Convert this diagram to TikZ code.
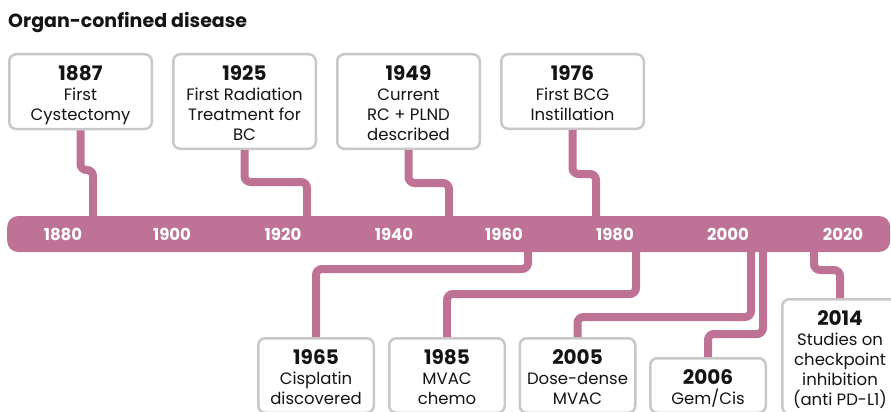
\documentclass[tikz,border=0pt]{standalone}
\usepackage{fontspec}
\setmainfont{Poppins}
\definecolor{mauve}{RGB}{190,115,150}
\definecolor{boxgray}{RGB}{200,200,200}
\definecolor{ink}{RGB}{20,20,20}
% year line of an event box: bold, with a strut that fixes the top padding
\newcommand\evyear[1]{{\fontsize{20}{20}\selectfont\bfseries\rule{0pt}{22.5pt}#1}}
% depth strut for the last line of an event box
\newcommand\evdp{\rule[-4pt]{0pt}{4pt}}
\begin{document}
\begin{tikzpicture}[x=1pt,y=-1pt,
  evbox/.style={draw=boxgray, line width=2.5pt, rounded corners=7pt, fill=white,
    align=center, inner xsep=2pt, inner ysep=4pt, text=ink,
    font=\fontsize{16.5}{20}\selectfont, anchor=north},
  topbox/.style={evbox, minimum width=142.5pt, anchor=north},
  lowbox/.style={evbox, minimum width=115.5pt, anchor=north},
  conn/.style={draw=mauve, line width=8pt, rounded corners=6pt},
  barlabel/.style={text=white, font=\fontsize{16.5}{16.5}\selectfont\bfseries, inner sep=0pt},
  heading/.style={text=ink, font=\fontsize{19}{19}\selectfont\bfseries, inner sep=0pt, anchor=base west}
]
\useasboundingbox (0,0) rectangle (891,412);

\node[heading] (title) at (8,28) {Organ-confined disease};

% points where the connectors meet the timeline
\coordinate (t1887) at (93,234);
\coordinate (t1925) at (307,234);
\coordinate (t1949) at (449,234);
\coordinate (t1976) at (596,234);
\coordinate (t1965) at (528,234);
\coordinate (t1985) at (636,234);
\coordinate (t2005) at (751,234);
\coordinate (t2006) at (763,234);
\coordinate (t2014) at (814,234);

% events above the timeline
\node[topbox] (b1887) at (80.5,53) {\evyear{1887}\\First\\Cystectomy\evdp};
\node[topbox] (b1925) at (244.5,53) {\evyear{1925}\\First Radiation\\Treatment for\\BC\evdp};
\node[topbox] (b1949) at (408.5,53) {\evyear{1949}\\Current\\RC + PLND\\described\evdp};
\node[topbox] (b1976) at (572.5,53) {\evyear{1976}\\First BCG\\Instillation\evdp};

% events below the timeline
\node[lowbox] (b1965) at (316,337) {\evyear{1965}\\Cisplatin\\discovered\evdp};
\node[lowbox] (b1985) at (447,337) {\evyear{1985}\\MVAC\\chemo\evdp};
\node[lowbox] (b2005) at (577.5,337) {\evyear{2005}\\Dose-dense\\MVAC\evdp};
\node[lowbox] (b2006) at (708,357) {\evyear{2006}\\Gem/Cis\evdp};
\node[lowbox] (b2014) at (840,298) {\evyear{2014}\\Studies on\\checkpoint\\inhibition\\(anti PD-L1)\evdp};

% connectors
\draw[conn] (b1887.south) -- (b1887.south |- 0,170) -| (t1887);
\draw[conn] (b1925.south) -- (b1925.south |- 0,182) -| (t1925);
\draw[conn] (b1949.south) -- (b1949.south |- 0,183) -| (t1949);
\draw[conn] (b1976.south) -- (b1976.south |- 0,174) -| (t1976);
\draw[conn] (t1965) |- (b1965.north |- 0,269) -- (b1965.north);
\draw[conn] (t1985) |- (b1985.north |- 0,294) -- (b1985.north);
\draw[conn] (t2005) |- (b2005.north |- 0,317) -- (b2005.north);
\draw[conn] (t2006) |- (b2006.north |- 0,334) -- (b2006.north);
\draw[conn] (t2014) |- (b2014.north |- 0,270) -- (b2014.north);

% timeline bar
\node[fill=mauve, rounded corners=11pt, minimum width=883pt, minimum height=36pt,
  inner sep=0pt, anchor=west] (bar) at (7,234) {};
\node[barlabel] (l1880) at (63,234) {1880};
\node[barlabel] (l1900) at (172,234) {1900};
\node[barlabel] (l1920) at (283,234) {1920};
\node[barlabel] (l1940) at (394,234) {1940};
\node[barlabel] (l1960) at (504,234) {1960};
\node[barlabel] (l1980) at (615,234) {1980};
\node[barlabel] (l2000) at (728,234) {2000};
\node[barlabel] (l2020) at (843,234) {2020};
\end{tikzpicture}
\end{document}
